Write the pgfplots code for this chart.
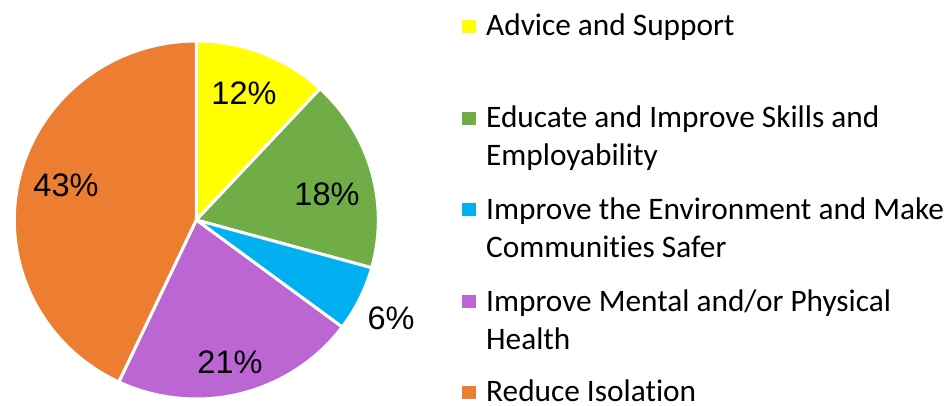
\documentclass[border=0pt]{standalone}
\usepackage{pgfplots}
\pgfplotsset{compat=1.18}
\usepackage{fontspec}
\setmainfont{Carlito}[Ligatures=NoCommon]
\newfontfamily\arial{Liberation Sans}
\definecolor{cyel}{HTML}{FFFF00}
\definecolor{cgrn}{HTML}{70AD47}
\definecolor{cblu}{HTML}{00B0F0}
\definecolor{cpur}{HTML}{BB66D3}
\definecolor{cora}{HTML}{ED7D31}
% slice values (percent): 11.9, 17.4, 5.9, 21.8, 43.0 -> angles clockwise from 90 deg
\begin{document}
\begin{tikzpicture}
\begin{axis}[width=952pt, height=406pt, scale only axis,
  xmin=0, xmax=952, ymin=0, ymax=406, y dir=reverse,
  hide axis, clip=false]
\pgfplotsset{pieslice/.style={draw=white, line width=3pt, line join=round, samples=90}}
% Advice and Support 11.9%
\addplot[pieslice, fill=cyel, domain=47.16:90] ({196.3+182*cos(x)}, {220-179*sin(x)}) -- (axis cs:196.3,220) -- cycle;
% Educate 17.4%
\addplot[pieslice, fill=cgrn, domain=-15.48:47.16] ({196.3+182*cos(x)}, {220-179*sin(x)}) -- (axis cs:196.3,220) -- cycle;
% Environment 5.9%
\addplot[pieslice, fill=cblu, domain=-36.72:-15.48] ({196.3+182*cos(x)}, {220-179*sin(x)}) -- (axis cs:196.3,220) -- cycle;
% Mental/Physical 21.8%
\addplot[pieslice, fill=cpur, domain=-115.2:-36.72] ({196.3+182*cos(x)}, {220-179*sin(x)}) -- (axis cs:196.3,220) -- cycle;
% Reduce Isolation 43.0%
\addplot[pieslice, fill=cora, domain=-270:-115.2] ({196.3+182*cos(x)}, {220-179*sin(x)}) -- (axis cs:196.3,220) -- cycle;

\begin{scope}[every node/.style={font=\arial\fontsize{32.5}{32.5}\selectfont}]
\node at (axis cs:244,93) {12\%};
\node at (axis cs:327,194) {18\%};
\node at (axis cs:391,318) {6\%};
\node at (axis cs:230,362) {21\%};
\node at (axis cs:66,185) {43\%};
\end{scope}

\begin{scope}[every node/.style={font=\fontsize{31.3}{38}\selectfont, anchor=base west, inner sep=0pt, align=left}]
\fill[cyel] (axis cs:461.5,20) rectangle (axis cs:475.5,33);
\node at (axis cs:486,36) {Advice and Support};
\fill[cgrn] (axis cs:461.5,112) rectangle (axis cs:475.5,125);
\node at (axis cs:486,128) {Educate and Improve Skills and};
\node at (axis cs:486,166) {Employability};
\fill[cblu] (axis cs:461.5,203) rectangle (axis cs:475.5,216);
\node at (axis cs:486,219) {Improve the Environment and Make};
\node at (axis cs:486,257) {Communities Safer};
\fill[cpur] (axis cs:461.5,295) rectangle (axis cs:475.5,308);
\node at (axis cs:486,311) {Improve Mental and/or Physical};
\node at (axis cs:486,349) {Health};
\fill[cora] (axis cs:461.5,386) rectangle (axis cs:475.5,399);
\node at (axis cs:486,401) {Reduce Isolation};
\end{scope}
\end{axis}
\pgfresetboundingbox
\path (0,0) rectangle (952pt,406pt);
\end{tikzpicture}
\end{document}
